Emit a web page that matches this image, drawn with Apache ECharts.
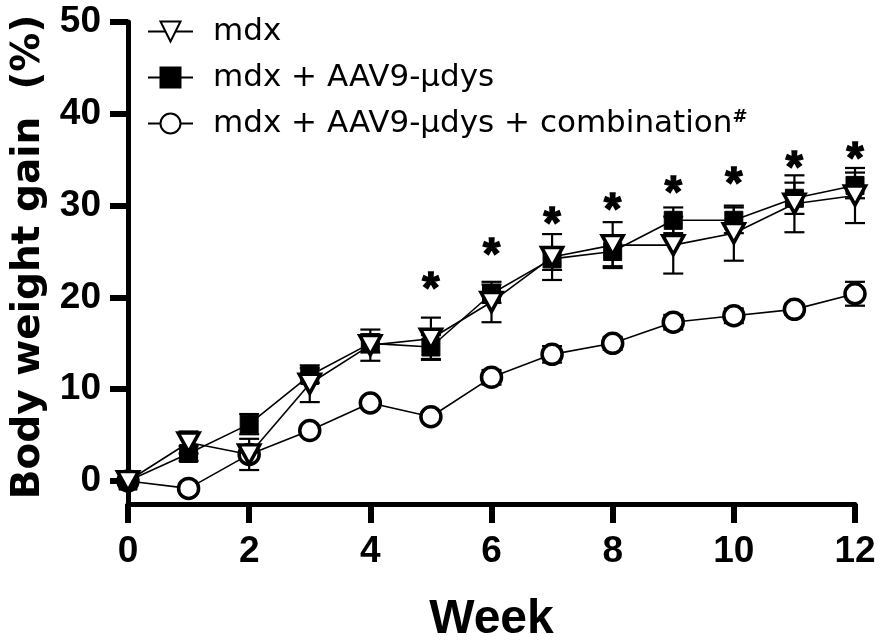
<!DOCTYPE html>
<html><head><meta charset="utf-8">
<script src="https://cdn.jsdelivr.net/npm/echarts@6/dist/echarts.min.js"></script>
<style>html,body{margin:0;padding:0;background:#fff}#c{width:886px;height:643px}</style>
</head><body><div id="c"></div>
<script>
const weeks = [0,1,2,3,4,5,6,7,8,9,10,11,12];
const seriesNames = ['mdx', 'mdx + AAV9-μdys', 'mdx + AAV9-μdys + combination'];
const mdx      = [0, 4.2, 2.9, 10.6, 14.8, 15.5, 19.5, 24.4, 25.7, 25.7, 27.0, 30.2, 31.1];
const mdxErr   = [0, 1.2, 1.7, 2.0, 1.7, 2.3, 2.2, 2.5, 2.5, 3.1, 3.0, 3.1, 3.0];
const aav      = [0, 3.0, 6.2, 11.5, 15.0, 14.6, 20.4, 24.2, 25.0, 28.4, 28.4, 30.8, 32.2];
const aavErr   = [0, 0.8, 1.1, 0.8, 1.0, 1.3, 1.0, 1.2, 1.6, 1.4, 1.4, 1.7, 1.4];
const combo    = [0, -0.8, 2.9, 5.5, 8.5, 7.0, 11.3, 13.8, 15.0, 17.3, 18.0, 18.7, 20.4];
const comboErr = [0, 0.5, 0.5, 0.5, 0.5, 0.5, 0.8, 0.9, 0.7, 0.8, 0.8, 0.6, 1.3];
const starWeeks  = [5, 6, 7, 8, 9, 10, 11, 12];
const starValues = [21.7, 25.4, 28.8, 30.3, 32.2, 33.1, 34.9, 35.9];
const yTicks = [0, 10, 20, 30, 40, 50];

const chart = echarts.init(document.getElementById('c'), null, {renderer: 'canvas'});

function pts(vals) { return weeks.map((w, i) => [w, vals[i]]); }

function errSeries(vals, errs, z) {
  return {
    type: 'custom', z: z, silent: true, clip: false,
    data: weeks.map((w, i) => [w, vals[i] - errs[i], vals[i] + errs[i]]),
    encode: {x: 0, y: [1, 2]},
    renderItem: function (params, api) {
      const x = api.value(0);
      const lo = api.coord([x, api.value(1)]);
      const hi = api.coord([x, api.value(2)]);
      const hw = 10;
      const st = {stroke: '#000', lineWidth: 2.2};
      return {type: 'group', children: [
        {type: 'line', shape: {x1: lo[0], y1: lo[1], x2: hi[0], y2: hi[1]}, style: st},
        {type: 'line', shape: {x1: lo[0] - hw, y1: lo[1], x2: lo[0] + hw, y2: lo[1]}, style: st},
        {type: 'line', shape: {x1: hi[0] - hw, y1: hi[1], x2: hi[0] + hw, y2: hi[1]}, style: st}
      ]};
    }
  };
}

const lineBase = {type: 'line', clip: false, lineStyle: {color: '#000', width: 1.6}};

chart.setOption({
  animation: false,
  backgroundColor: '#fff',
  grid: {left: 128, right: 31, top: 22, bottom: 139, containLabel: false, outerBoundsMode: 'none'},
  legend: {
    orient: 'vertical', left: 142, top: 11,
    itemWidth: 45, itemHeight: 25, itemGap: 15,
    data: seriesNames,
    textStyle: {fontFamily: 'DejaVu Sans', fontSize: 31, color: '#000', lineHeight: 31, padding: [0, 0, 0, 15],
      rich: {
        n: {fontFamily: 'DejaVu Sans', fontSize: 31, color: '#000', lineHeight: 31},
        s: {fontFamily: 'DejaVu Sans', fontSize: 18, fontWeight: 'bold', color: '#000', lineHeight: 31, verticalAlign: 'top'}
      }},
    formatter: function (name) {
      return name === seriesNames[2] ? '{n|' + name + '}{s|#}' : '{n|' + name + '}';
    }
  },
  xAxis: {
    type: 'value', min: 0, max: 12, interval: 2,
    name: 'Week', nameLocation: 'middle', nameGap: 92,
    nameTextStyle: {fontFamily: 'Liberation Sans', fontWeight: 'bold', fontSize: 48, color: '#000'},
    axisLine: {onZero: false, lineStyle: {color: '#000', width: 5}},
    axisTick: {length: 19, lineStyle: {color: '#000', width: 6}},
    axisLabel: {margin: 29, fontFamily: 'Liberation Sans', fontWeight: 'bold', fontSize: 37, color: '#000'},
    splitLine: {show: false}
  },
  yAxis: {
    type: 'value', min: -2.5, max: 50,
    name: 'Body weight gain  (%)', nameLocation: 'middle', nameGap: 80,
    nameTextStyle: {fontFamily: 'DejaVu Sans', fontWeight: 'bold', fontSize: 39, color: '#000', padding: [0, 0, 0, 12]},
    axisLine: {show: true, onZero: false, lineStyle: {color: '#000', width: 5}},
    axisTick: {show: true, length: 18, customValues: yTicks, lineStyle: {color: '#000', width: 6}},
    axisLabel: {margin: 27, customValues: yTicks, fontFamily: 'Liberation Sans', fontWeight: 'bold', fontSize: 37, color: '#000'},
    splitLine: {show: false}
  },
  series: [
    errSeries(combo, comboErr, 1),
    errSeries(aav, aavErr, 1),
    errSeries(mdx, mdxErr, 1),
    Object.assign({}, lineBase, {
      name: seriesNames[2], z: 3, data: pts(combo),
      symbol: 'circle', symbolSize: 20,
      itemStyle: {color: '#fff', borderColor: '#000', borderWidth: 3.5}
    }),
    Object.assign({}, lineBase, {
      name: seriesNames[1], z: 4, data: pts(aav),
      symbol: 'rect', symbolSize: 18,
      itemStyle: {color: '#000', borderColor: '#000', borderWidth: 1}
    }),
    Object.assign({}, lineBase, {
      name: seriesNames[0], z: 5, data: pts(mdx),
      symbol: 'triangle', symbolRotate: 180, symbolSize: [21, 19],
      itemStyle: {color: '#fff', borderColor: '#000', borderWidth: 3.5}
    }),
    {
      type: 'scatter', z: 6, silent: true, clip: false,
      data: starWeeks.map((w, i) => [w, starValues[i]]),
      symbol: 'circle', symbolSize: 1, itemStyle: {color: 'rgba(0,0,0,0)'},
      label: {show: true, position: 'inside', formatter: '*', offset: [0, 9],
        fontFamily: 'Liberation Sans', fontWeight: 'bold', fontSize: 44, color: '#000',
        textBorderColor: '#000', textBorderWidth: 1.5, opacity: 1}
    }
  ]
});
</script>
</body></html>
